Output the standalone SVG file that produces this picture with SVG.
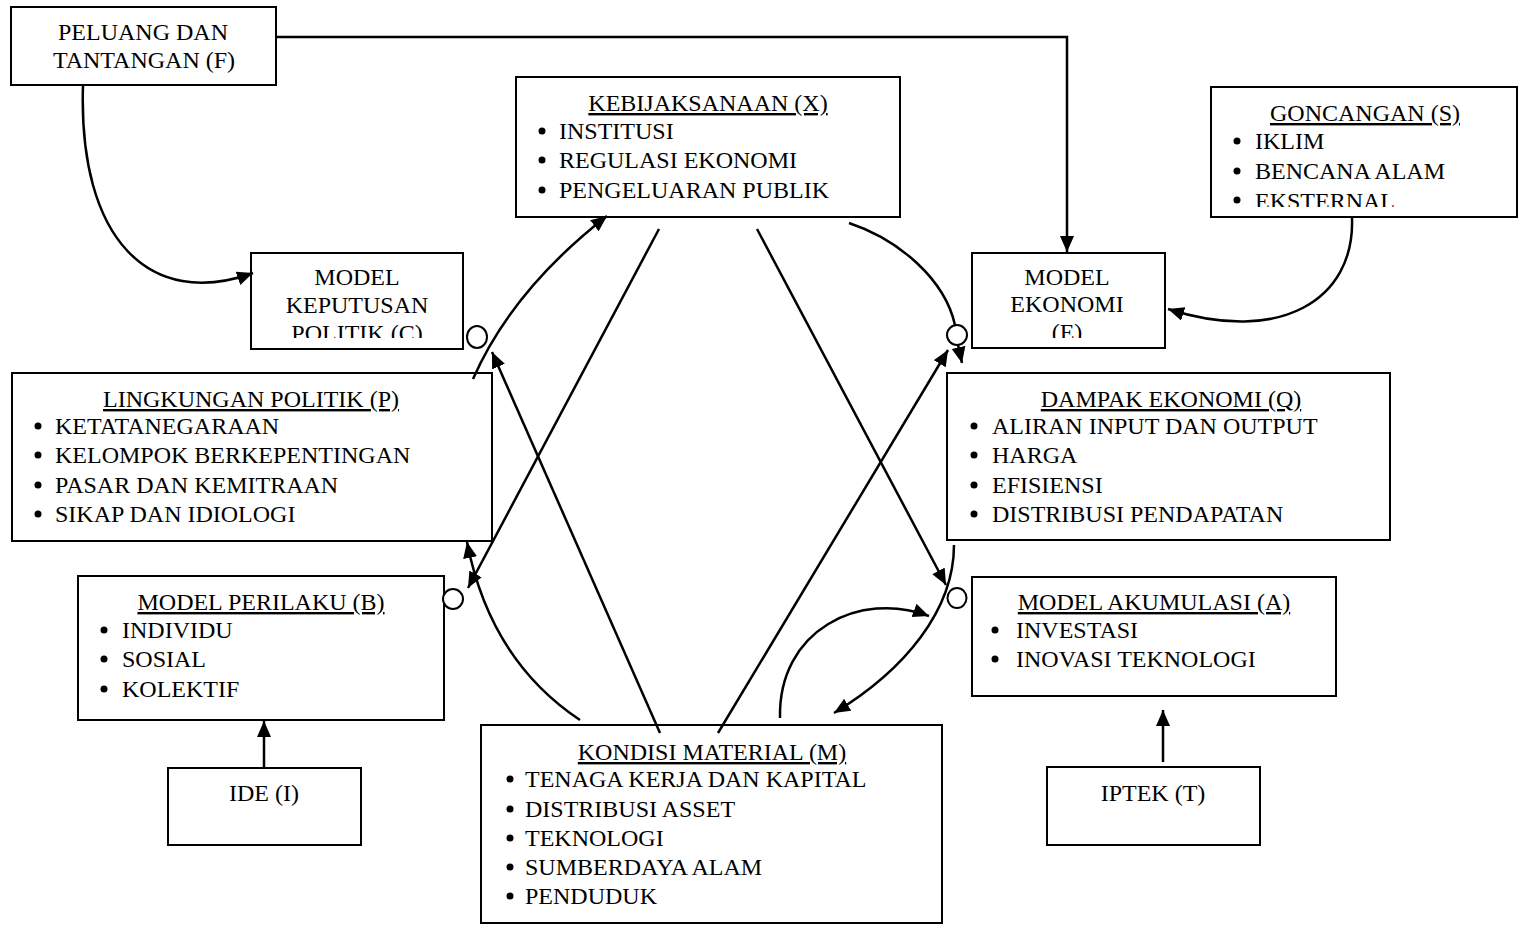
<svg xmlns="http://www.w3.org/2000/svg" width="1519" height="925" viewBox="0 0 1519 925">
<style>
.box{fill:#fff;stroke:#000;stroke-width:2}
.t{font-family:"Liberation Serif","Times New Roman",serif;font-size:24px;fill:#000}
.c{text-anchor:middle}
.u{text-decoration:underline}
.cn{fill:none;stroke:#000;stroke-width:2.5}
.bl{fill:#000}
.o{fill:#fff;stroke:#000;stroke-width:2}
</style>
<defs>
<marker id="ah" markerUnits="userSpaceOnUse" markerWidth="17" markerHeight="15" refX="16" refY="7" orient="auto">
<path d="M0,0 L16,7 L0,14 z" fill="#000"/>
</marker>
<clipPath id="clipS"><rect x="1211" y="87" width="308" height="120"/></clipPath>
<clipPath id="clipC"><rect x="251" y="253" width="212" height="85"/></clipPath>
<clipPath id="clipE"><rect x="972" y="253" width="193" height="85"/></clipPath>
</defs>
<rect width="1519" height="925" fill="#fff"/>

<g id="nodeF">
<rect class="box" x="11" y="7" width="265" height="78"/>
<text class="t c" x="143" y="40">PELUANG DAN</text>
<text class="t c" x="144" y="68">TANTANGAN (F)</text>
</g>

<g id="nodeX">
<rect class="box" x="516" y="77" width="384" height="140"/>
<text class="t c u" x="708" y="111">KEBIJAKSANAAN (X)</text>
<circle class="bl" cx="542" cy="131" r="3.5"/>
<circle class="bl" cx="542" cy="160" r="3.5"/>
<circle class="bl" cx="542" cy="190" r="3.5"/>
<text class="t" x="559" y="139">INSTITUSI</text>
<text class="t" x="559" y="168">REGULASI EKONOMI</text>
<text class="t" x="559" y="198">PENGELUARAN PUBLIK</text>
</g>

<g id="nodeS">
<rect class="box" x="1211" y="87" width="306" height="130"/>
<g clip-path="url(#clipS)">
<text class="t c u" x="1365" y="121">GONCANGAN (S)</text>
<circle class="bl" cx="1237" cy="141" r="3.5"/>
<circle class="bl" cx="1237" cy="171" r="3.5"/>
<circle class="bl" cx="1237" cy="200" r="3.5"/>
<text class="t" x="1255" y="149">IKLIM</text>
<text class="t" x="1255" y="179">BENCANA ALAM</text>
<text class="t" x="1255" y="209">EKSTERNAL</text>
</g>
</g>

<g id="nodeC">
<rect class="box" x="251" y="253" width="212" height="96"/>
<g clip-path="url(#clipC)">
<text class="t c" x="357" y="285">MODEL</text>
<text class="t c" x="357" y="313">KEPUTUSAN</text>
<text class="t c" x="357" y="341">POLITIK (C)</text>
</g>
</g>

<g id="nodeE">
<rect class="box" x="972" y="253" width="193" height="95"/>
<g clip-path="url(#clipE)">
<text class="t c" x="1067" y="285">MODEL</text>
<text class="t c" x="1067" y="312">EKONOMI</text>
<text class="t c" x="1067" y="340">(E)</text>
</g>
</g>

<g id="nodeP">
<rect class="box" x="12" y="373" width="480" height="168"/>
<text class="t c u" x="251" y="407">LINGKUNGAN POLITIK (P)</text>
<circle class="bl" cx="38" cy="426" r="3.5"/>
<circle class="bl" cx="38" cy="455" r="3.5"/>
<circle class="bl" cx="38" cy="485" r="3.5"/>
<circle class="bl" cx="38" cy="514" r="3.5"/>
<text class="t" x="55" y="434">KETATANEGARAAN</text>
<text class="t" x="55" y="463">KELOMPOK BERKEPENTINGAN</text>
<text class="t" x="55" y="493">PASAR DAN KEMITRAAN</text>
<text class="t" x="55" y="522">SIKAP DAN IDIOLOGI</text>
</g>

<g id="nodeQ">
<rect class="box" x="947" y="373" width="443" height="167"/>
<text class="t c u" x="1171" y="407">DAMPAK EKONOMI (Q)</text>
<circle class="bl" cx="974" cy="426" r="3.5"/>
<circle class="bl" cx="974" cy="455" r="3.5"/>
<circle class="bl" cx="974" cy="485" r="3.5"/>
<circle class="bl" cx="974" cy="514" r="3.5"/>
<text class="t" x="992" y="434">ALIRAN INPUT DAN OUTPUT</text>
<text class="t" x="992" y="463">HARGA</text>
<text class="t" x="992" y="493">EFISIENSI</text>
<text class="t" x="992" y="522">DISTRIBUSI PENDAPATAN</text>
</g>

<g id="nodeB">
<rect class="box" x="78" y="576" width="366" height="144"/>
<text class="t c u" x="261" y="610">MODEL PERILAKU (B)</text>
<circle class="bl" cx="104" cy="630" r="3.5"/>
<circle class="bl" cx="104" cy="659" r="3.5"/>
<circle class="bl" cx="104" cy="689" r="3.5"/>
<text class="t" x="122" y="638">INDIVIDU</text>
<text class="t" x="122" y="667">SOSIAL</text>
<text class="t" x="122" y="697">KOLEKTIF</text>
</g>

<g id="nodeA">
<rect class="box" x="972" y="577" width="364" height="119"/>
<text class="t c u" x="1154" y="610">MODEL AKUMULASI (A)</text>
<circle class="bl" cx="995" cy="630" r="3.5"/>
<circle class="bl" cx="995" cy="659" r="3.5"/>
<text class="t" x="1016" y="638">INVESTASI</text>
<text class="t" x="1016" y="667">INOVASI TEKNOLOGI</text>
</g>

<g id="nodeM">
<rect class="box" x="481" y="725" width="461" height="198"/>
<text class="t c u" x="712" y="760">KONDISI MATERIAL (M)</text>
<circle class="bl" cx="510" cy="779" r="3.5"/>
<circle class="bl" cx="510" cy="809" r="3.5"/>
<circle class="bl" cx="510" cy="838" r="3.5"/>
<circle class="bl" cx="510" cy="867" r="3.5"/>
<circle class="bl" cx="510" cy="896" r="3.5"/>
<text class="t" x="525" y="787">TENAGA KERJA DAN KAPITAL</text>
<text class="t" x="525" y="817">DISTRIBUSI ASSET</text>
<text class="t" x="525" y="846">TEKNOLOGI</text>
<text class="t" x="525" y="875">SUMBERDAYA ALAM</text>
<text class="t" x="525" y="904">PENDUDUK</text>
</g>

<g id="nodeI">
<rect class="box" x="168" y="768" width="193" height="77"/>
<text class="t c" x="264" y="801">IDE (I)</text>
</g>

<g id="nodeT">
<rect class="box" x="1047" y="767" width="213" height="78"/>
<text class="t c" x="1153" y="801">IPTEK (T)</text>
</g>

<g id="connectors">
<path class="cn" d="M276 37 H1067 V252" marker-end="url(#ah)"/>
<path class="cn" d="M83 85 C78 240 150 310 253 273" marker-end="url(#ah)"/>
<path class="cn" d="M1352 218 C1355 300 1280 345 1168 309" marker-end="url(#ah)"/>
<path class="cn" d="M849 223 C900 240 945 280 955 325"/>
<path class="cn" d="M958 345 L962 363" marker-end="url(#ah)"/>
<path class="cn" d="M473 379 Q512 290 607 216" marker-end="url(#ah)"/>
<path class="cn" d="M659 229 L468 588" marker-end="url(#ah)"/>
<path class="cn" d="M757 229 L946 585" marker-end="url(#ah)"/>
<path class="cn" d="M660 733 L492 352" marker-end="url(#ah)"/>
<path class="cn" d="M718 733 L948 350" marker-end="url(#ah)"/>
<path class="cn" d="M580 720 Q490 660 467 542" marker-end="url(#ah)"/>
<path class="cn" d="M954 545 C954 610 905 670 834 713" marker-end="url(#ah)"/>
<path class="cn" d="M780 718 C778 630 860 590 929 616" marker-end="url(#ah)"/>
<path class="cn" d="M264 768 L264 721" marker-end="url(#ah)"/>
<path class="cn" d="M1163 762 L1163 710" marker-end="url(#ah)"/>
<ellipse class="o" cx="477" cy="337" rx="10" ry="11"/>
<circle class="o" cx="957" cy="335" r="10"/>
<circle class="o" cx="453" cy="599" r="10"/>
<ellipse class="o" cx="957" cy="598" rx="9.5" ry="10"/>
</g>
</svg>
